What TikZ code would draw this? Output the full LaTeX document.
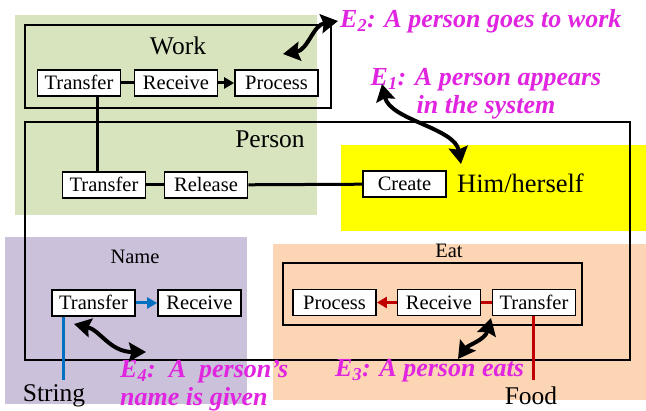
\documentclass[tikz,border=0pt]{standalone}
\usepackage{fontspec}
\setmainfont{Liberation Serif}
\usepackage{xcolor}
\usetikzlibrary{arrows.meta}
\definecolor{workgreen}{RGB}{215,228,189}
\definecolor{selfyellow}{RGB}{255,255,0}
\definecolor{namepurple}{RGB}{204,193,218}
\definecolor{eatorange}{RGB}{252,213,181}
\definecolor{nameblue}{RGB}{0,112,192}
\definecolor{eatred}{RGB}{192,0,0}
\definecolor{evmagenta}{RGB}{224,36,224}
\newcommand*{\boxfont}{\fontsize{20.5}{24}\selectfont}
\newcommand*{\titlefont}{\fontsize{25.5}{30}\selectfont}
\newcommand*{\eventfont}{\fontsize{26}{28.5}\selectfont\bfseries\itshape}

\begin{document}
\begin{tikzpicture}[x=1pt, y=-1pt,
  box/.style={draw, line width=1.8pt, fill=white, minimum width=83pt, inner xsep=6pt, inner ysep=4pt, text height=16pt, text depth=2pt, font=\boxfont},
  frame/.style={line width=1.8pt},
  link/.style={line width=3pt},
  flow/.style={link, -{Triangle[length=10pt,width=11pt]}},
  event/.style={line width=4pt, {Stealth[length=17pt,width=19pt,inset=2.5pt]}-{Stealth[length=17pt,width=19pt,inset=2.5pt]}},
  evtext/.style={text=evmagenta, font=\eventfont, inner sep=0pt}]
\useasboundingbox (0,0) rectangle (646,411);
% colour areas
\fill[workgreen] (15,15) rectangle (317,215);
\fill[selfyellow] (341,145) rectangle (646,231);
\fill[namepurple] (5,237) rectangle (247,404);
\fill[eatorange] (273,244) rectangle (646,400);
% frames
\draw[frame] (25,25) rectangle (331,108);
\draw[frame] (25,122) rectangle (630,360);
\draw[frame] (283,263) rectangle (582,325);
% titles
\node[font=\titlefont, anchor=base] (work) at (178,55) {Work};
\node[font=\titlefont, anchor=base] (person) at (270,148) {Person};
\node[font=\fontsize{26.5}{30}\selectfont, anchor=base west, inner sep=0pt] (self) at (457,193) {Him/herself};
\node[font=\boxfont, anchor=base] (name) at (135,264) {Name};
\node[font=\boxfont, anchor=base] (eat) at (449,258) {Eat};
\node[font=\titlefont, anchor=base] (string) at (54,402) {String};
\node[font=\titlefont, anchor=base] (food) at (531,405) {Food};
% boxes
\node[box] (wTransfer) at (79,83) {Transfer};
\node[box] (wReceive) at (176,83) {Receive};
\node[box] (wProcess) at (276.5,83) {Process};
\node[box] (lTransfer) at (104,185) {Transfer};
\node[box] (lRelease) at (206,185) {Release};
\node[box] (create) at (404.5,184) {Create};
\node[box] (nTransfer) at (93.5,303) {Transfer};
\node[box] (nReceive) at (199.5,303) {Receive};
\node[box] (eProcess) at (334.5,302.5) {Process};
\node[box] (eReceive) at (439,302.5) {Receive};
\node[box] (eTransfer) at (534,302.5) {Transfer};
% connectors
\draw[link] (wTransfer) -- (wReceive);
\draw[flow] (wReceive) -- (wProcess);
\draw[link] ([xshift=18pt]wTransfer.south) -- ([xshift=18pt]wTransfer.south |- lTransfer.north);
\draw[link] (lTransfer) -- (lRelease);
\draw[link] (lRelease) -- (create);
\draw[flow, nameblue] (nTransfer) -- (nReceive);
\coordinate (strTop) at (63,380);
\draw[link, nameblue] (nTransfer.south -| strTop) -- (strTop);
\draw[flow, eatred] (eReceive) -- (eProcess);
\draw[link, eatred] (eTransfer) -- (eReceive);
\coordinate (foodTop) at (533,380);
\draw[link, eatred] (eTransfer.south -| foodTop) -- (foodTop);
% events
\node[evtext, anchor=base west] (e2) at (340,28) {E\textsubscript{2}: A person goes to work};
\node[evtext, anchor=north, align=center] (e1) at (486,68) {E\textsubscript{1}: A person appears\\in the system};
\node[evtext, anchor=north west, align=left] (e4) at (120,360) {E\textsubscript{4}:\ \ A\ \ person’s\\name is given};
\node[evtext, anchor=base west] (e3) at (335,377) {E\textsubscript{3}: A person eats};
\coordinate (e2a) at (283,54);
\coordinate (e2b) at (338,21);
\coordinate (e1a) at (382,84);
\coordinate (e1b) at (461,164);
\coordinate (e4a) at (74,324);
\coordinate (e4b) at (146,352);
\coordinate (e3a) at (458,359);
\coordinate (e3b) at (491,318);
\draw[event] (e2a) .. controls (308,50) and (313,25) .. (e2b);
\draw[event] (e1a) .. controls (390,120) and (455,128) .. (e1b);
\draw[event] (e4a) .. controls (100,330) and (110,352) .. (e4b);
\draw[event] (e3a) .. controls (468,345) and (485,340) .. (e3b);
\end{tikzpicture}
\end{document}
